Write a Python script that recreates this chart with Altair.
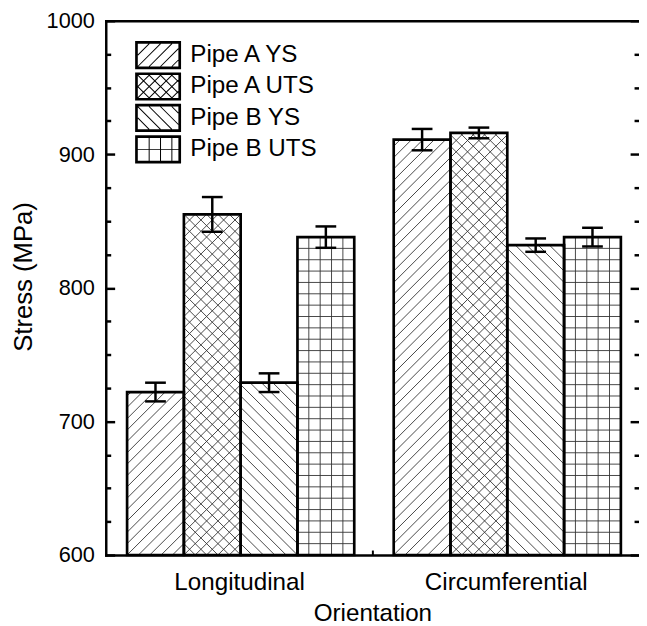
import altair as alt
import numpy as np
import pandas as pd

# ---------------- data ----------------
orientations = ["Longitudinal", "Circumferential"]
series = ["Pipe A YS", "Pipe A UTS", "Pipe B YS", "Pipe B UTS"]
longitudinal_mean = [722, 855, 729, 838]
longitudinal_err = [7, 13, 7, 8]
circumferential_mean = [911, 916, 832, 838]
circumferential_err = [8, 4, 5, 7]
major_ticks = [600, 700, 800, 900, 1000]
minor_ticks = [625, 650, 675, 725, 750, 775, 825, 850, 875, 925, 950, 975]
hatch_kinds = {
    "Pipe A YS": ["fwd"],
    "Pipe A UTS": ["fwd", "back"],
    "Pipe B YS": ["back"],
    "Pipe B UTS": ["v", "h"],
}

# ---------------- layout constants ----------------
W, H = 540, 541
YMIN, YMAX = 600, 1000
PX_X = W / 2.0
PX_Y = H / (YMAX - YMIN)
BAR_W = 0.213
PAD = 0.08
PERIOD = 11.5
FONT = "Liberation Sans"


def hatch_lines(w, h, kind, p):
    segs = []
    if kind == "v":
        u = p
        while u < w - 1:
            segs.append((u, 0.0, u, h))
            u += p
    elif kind == "h":
        v = p
        while v < h - 1:
            segs.append((0.0, v, w, v))
            v += p
    elif kind == "fwd":
        for k in range(int(np.ceil(-w / p)), int(np.floor(h / p)) + 1):
            c = k * p
            ua, ub = max(0.0, -c), min(w, h - c)
            if ub - ua > 0.6:
                segs.append((ua, ua + c, ub, ub + c))
    elif kind == "back":
        for k in range(1, int(np.floor((w + h) / p)) + 1):
            c = k * p
            ua, ub = max(0.0, c - h), min(w, c)
            if ub - ua > 0.6:
                segs.append((ua, c - ua, ub, c - ub))
    return segs


rows = []
for gi, (orient, means, errs) in enumerate(
    [("Longitudinal", longitudinal_mean, longitudinal_err),
     ("Circumferential", circumferential_mean, circumferential_err)]
):
    for si, s in enumerate(series):
        x0 = gi + PAD + si * BAR_W
        m, e = means[si], errs[si]
        rows.append(dict(orientation=orient, series=s, mean=m, err=e,
                         x0=x0, x1=x0 + BAR_W, xc=x0 + BAR_W / 2,
                         base=YMIN, lo=m - e, hi=m + e, mid=(YMIN + m) / 2))
bars = pd.DataFrame(rows)

hatch = []
for r in rows:
    w = BAR_W * PX_X
    h = (r["mean"] - YMIN) * PX_Y
    for kind in hatch_kinds[r["series"]]:
        for ua, va, ub, vb in hatch_lines(w, h, kind, PERIOD):
            hatch.append(dict(xa=r["x0"] + ua / PX_X, ya=YMIN + va / PX_Y,
                              xb=r["x0"] + ub / PX_X, yb=YMIN + vb / PX_Y))
hatch_df = pd.DataFrame(hatch)

# ---------------- legend symbols (hatched boxes as filled SVG paths) ----------------
R = 14.0  # sqrt(symbol size) / 2


def poly(points):
    area = 0.0
    for i in range(len(points)):
        x1, y1 = points[i]
        x2, y2 = points[(i + 1) % len(points)]
        area += x1 * y2 - x2 * y1
    if area < 0:
        points = points[::-1]
    return "M" + "L".join(f"{x / R:.3f},{y / R:.3f}" for x, y in points) + "Z"


def legend_path(kinds):
    ox0, ox1, oy = -14.25, 32.25, 14.25
    t = 2.7
    ix0, ix1, iy = ox0 + t, ox1 - t, oy - t
    d = poly([(ox0, -oy), (ox1, -oy), (ox1, oy), (ox0, oy)])
    inner = [(ix0, -iy), (ix0, iy), (ix1, iy), (ix1, -iy)]
    d += "M" + "L".join(f"{x / R:.3f},{y / R:.3f}" for x, y in inner) + "Z"
    w, h = ix1 - ix0, 2 * iy
    hw = 0.5
    for kind in kinds:
        for ua, va, ub, vb in hatch_lines(w, h, kind, PERIOD):
            ax_, ay = ix0 + ua, iy - va
            bx, by = ix0 + ub, iy - vb
            L = np.hypot(bx - ax_, by - ay)
            nx, ny = -(by - ay) / L * hw, (bx - ax_) / L * hw
            d += poly([(ax_ + nx, ay + ny), (bx + nx, by + ny),
                       (bx - nx, by - ny), (ax_ - nx, ay - ny)])
    return d


legend_paths = [legend_path(hatch_kinds[s]) for s in series]

# ---------------- scales & axes ----------------
xscale = alt.Scale(domain=[0, 2], nice=False, zero=False)
yscale = alt.Scale(domain=[YMIN, YMAX], nice=False, zero=False)


def ax(**kw):
    base = dict(grid=False, labels=False, domain=False, ticks=False, title=None)
    base.update(kw)
    return alt.Axis(**base)


axis_left_major = ax(orient="left", values=major_ticks, ticks=True, tickSize=9, offset=-9,
                     tickWidth=2.5, tickColor="black", labels=True, format="d",
                     labelFont=FONT, labelFontSize=22, labelColor="black", labelPadding=11.5,
                     title="Stress (MPa)", titleFont=FONT, titleFontSize=26,
                     titleFontWeight="normal", titleColor="black", titlePadding=9.5,
                     titleY=259)
axis_left_minor = ax(orient="left", values=minor_ticks, ticks=True, tickSize=5, offset=-5,
                     tickWidth=2.5, tickColor="black")
axis_left_domain = ax(orient="left", domain=True, domainWidth=2.5, domainColor="black",
                      domainCap="square")
axis_right_major = ax(orient="right", values=major_ticks, ticks=True, tickSize=9, offset=-9,
                      tickWidth=2.5, tickColor="black")
axis_right_minor = ax(orient="right", values=minor_ticks, ticks=True, tickSize=5, offset=-5,
                      tickWidth=2.5, tickColor="black")

axis_bottom = ax(orient="bottom", values=[0.5, 1.5], labels=True,
                 labelExpr="datum.value < 1 ? 'Longitudinal' : 'Circumferential'",
                 labelFont=FONT, labelFontSize=24.5, labelColor="black", labelPadding=16,
                 labelFlush=False, tickSize=0, domain=True, domainWidth=2.5,
                 domainColor="black", domainCap="square",
                 title="Orientation", titleFont=FONT, titleFontSize=24.5,
                 titleFontWeight="normal", titleColor="black", titlePadding=8)
axis_bottom_sep = ax(orient="bottom", values=[1.0], ticks=True, tickSize=5, offset=-5,
                     tickWidth=2, tickColor="black")
axis_top = ax(orient="top", domain=True, domainWidth=2.5, domainColor="black",
              domainCap="square")

base = alt.Chart(bars)

legend_layer = base.mark_point(fill="black", stroke="black", strokeWidth=0, size=784,
                               filled=True, xOffset=-9).encode(
    x=alt.X("xc:Q", scale=xscale, axis=None),
    y=alt.Y("mid:Q", scale=yscale, axis=None),
    shape=alt.Shape("series:N",
                    scale=alt.Scale(domain=series, range=legend_paths),
                    legend=alt.Legend(orient="none", legendX=30, legendY=20.8, title=None,
                                      labelFont=FONT, labelFontSize=24.5, labelColor="black",
                                      labelOffset=27.6, symbolOffset=0, symbolSize=784,
                                      symbolStrokeWidth=0, symbolFillColor="black",
                                      symbolOpacity=1, rowPadding=1.8, padding=0,
                                      labelLimit=400)),
)

white_bars = base.mark_rect(fill="white", stroke=None).encode(
    x=alt.X("x0:Q", scale=xscale, axis=axis_bottom),
    x2="x1:Q",
    y=alt.Y("base:Q", scale=yscale, axis=axis_left_major),
    y2="mean:Q",
)

hatch_layer = alt.Chart(hatch_df).mark_rule(color="#333", strokeWidth=0.9).encode(
    x=alt.X("xa:Q", scale=xscale, axis=axis_bottom_sep),
    x2="xb:Q",
    y=alt.Y("ya:Q", scale=yscale, axis=axis_left_minor),
    y2="yb:Q",
)

outline = base.mark_rect(fill="white", fillOpacity=0, stroke="black", strokeWidth=2.7).encode(
    x=alt.X("x0:Q", scale=xscale, axis=axis_top),
    x2="x1:Q",
    y=alt.Y("base:Q", scale=yscale, axis=axis_left_domain),
    y2="mean:Q",
)

err_rule = base.mark_rule(color="black", strokeWidth=2.5).encode(
    x=alt.X("xc:Q", scale=xscale, axis=None),
    y=alt.Y("lo:Q", scale=yscale, axis=axis_right_major),
    y2="hi:Q",
)

caps = base.transform_fold(["lo", "hi"], as_=["end", "value"]).mark_tick(
    orient="horizontal", size=21, thickness=2.5, color="black", opacity=1
).encode(
    x=alt.X("xc:Q", scale=xscale, axis=None),
    y=alt.Y("value:Q", scale=yscale, axis=axis_right_minor),
)

chart = alt.layer(legend_layer, white_bars, hatch_layer, outline, err_rule, caps).resolve_axis(
    x="independent", y="independent"
).properties(
    width=W, height=H,
    autosize=alt.AutoSizeParams(type="none"),
    padding={"left": 99, "top": 9, "right": 0, "bottom": 68},
    background="white",
).configure_view(stroke=None)

chart.save("out.html", embed_options={"renderer": "svg", "actions": False})
